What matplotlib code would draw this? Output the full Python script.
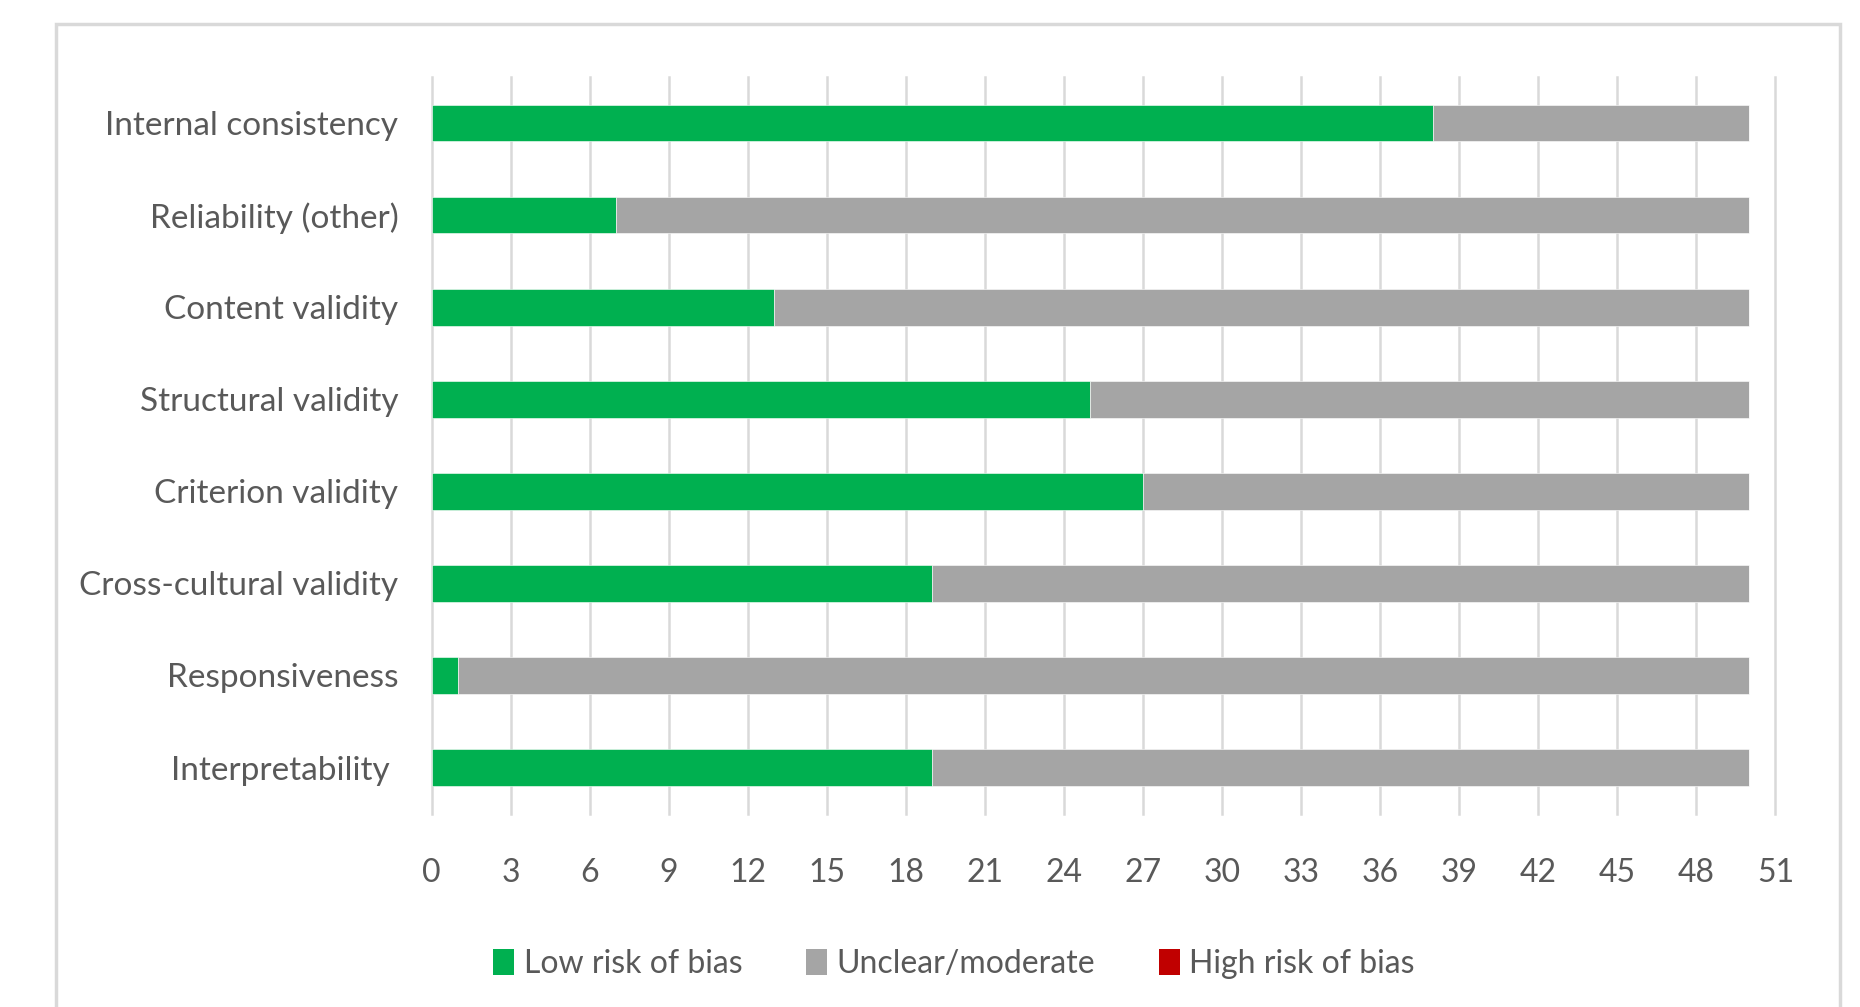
import matplotlib
matplotlib.use("Agg")
import matplotlib.pyplot as plt
from matplotlib.patches import Rectangle, Patch
import numpy as np

categories = ["Internal consistency", "Reliability (other)", "Content validity",
              "Structural validity", "Criterion validity", "Cross-cultural validity",
              "Responsiveness", "Interpretability "]
low = [38, 7, 13, 25, 27, 19, 1, 19]
unclear = [12, 43, 37, 25, 23, 31, 49, 31]
high = [0, 0, 0, 0, 0, 0, 0, 0]
series_names = ["Low risk of bias", "Unclear/moderate", "High risk of bias"]
colors = ["#00B050", "#A5A5A5", "#C00000"]
xticks = list(range(0, 52, 3))

plt.rcParams['font.family'] = ['Lato', 'DejaVu Sans']
text_color = "#595959"
fs = 23

fig = plt.figure(figsize=(18.6, 10.07), dpi=100)
ax = fig.add_axes([0.2321, 0.1921, 0.7224, 0.7315])

y = np.arange(len(categories))
left = np.zeros(len(categories))
for vals, name, c in zip([low, unclear, high], series_names, colors):
    ax.barh(y, vals, left=left, height=0.4, color=c, label=name, zorder=3,
            edgecolor="white", linewidth=0.4)
    left = left + np.array(vals)

ax.set_ylim(len(categories) - 0.5, -0.5)
ax.set_xlim(0, 51)
ax.set_xticks(xticks)
ax.set_xticklabels([str(t) for t in xticks])
ax.set_yticks(y)
ax.set_yticklabels(categories)
ax.grid(axis="x", color="#d9d9d9", linewidth=1.8, zorder=0)
ax.grid(axis="y", visible=False)
for gl in ax.get_xgridlines():
    gl.set_clip_on(False)
for s in ax.spines.values():
    s.set_visible(False)
ax.tick_params(axis="both", length=0, colors=text_color, labelsize=fs)
ax.tick_params(axis="y", pad=24, labelsize=24)
ax.tick_params(axis="x", pad=32)

handles = [Patch(facecolor=c, edgecolor="none") for c in colors]
fig.legend(handles, series_names, loc="center", bbox_to_anchor=(0.513, 0.043),
           ncol=3, frameon=False, fontsize=fs, labelcolor=text_color,
           handlelength=0.65, handleheight=0.9, handletextpad=0.3, columnspacing=2.0)

border = Rectangle((56 / 1860, -0.05), (1840 - 56) / 1860, (1007 - 24) / 1007 + 0.05,
                   transform=fig.transFigure, fill=False, edgecolor="#d9d9d9",
                   linewidth=2.5, clip_on=False)
fig.patches.append(border)

fig.savefig("out.png", dpi=100)
